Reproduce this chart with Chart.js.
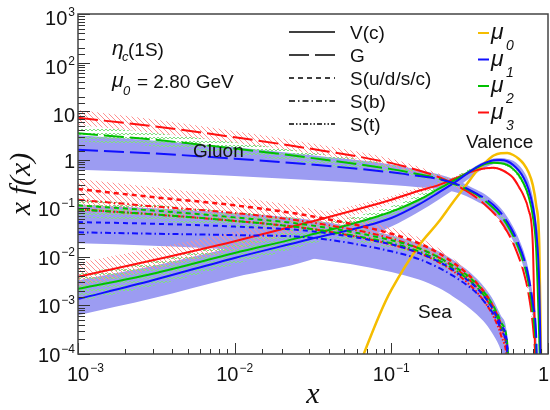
<!DOCTYPE html>
<html>
<head>
<meta charset="utf-8">
<script src="https://cdn.jsdelivr.net/npm/chart.js@4.4.1/dist/chart.umd.min.js"></script>
<style>
  body { margin: 0; background: #fff; }
  #wrap { width: 550px; height: 410px; }
</style>
</head>
<body>
<div id="wrap"><canvas id="pdfChart" width="550" height="410"></canvas></div>
<script>
// shared x grid (momentum fraction)
const xValues = [0.001, 0.003, 0.01, 0.03, 0.1, 0.15, 0.2, 0.25, 0.3, 0.35, 0.4, 0.45, 0.5, 0.55, 0.6, 0.65, 0.7, 0.75, 0.8, 0.84, 0.88, 0.92];

// valence V(c), central lines
const valMu0 = [1e-6, 1e-6, 1e-6, 1e-6, 2.1e-3, 0.017, 0.052, 0.14, 0.30, 0.58, 0.89, 1.22, 1.36, 1.37, 1.25, 1.05, 0.82, 0.56, 0.30, 0.117, 0.017, 1e-6];
const valMu1 = [1.35e-3, 3.3e-3, 9.5e-3, 0.023, 0.063, 0.12, 0.21, 0.33, 0.5, 0.7, 0.87, 0.98, 0.99, 0.93, 0.78, 0.6, 0.42, 0.25, 0.11, 0.035, 2.5e-3, 1e-6];
const valMu2 = [2.2e-3, 4.5e-3, 0.012, 0.028, 0.085, 0.15, 0.25, 0.37, 0.52, 0.68, 0.82, 0.87, 0.85, 0.78, 0.64, 0.48, 0.32, 0.18, 0.07, 0.015, 2e-4, 1e-6];
const valMu3 = [3.9e-3, 8.5e-3, 0.021, 0.052, 0.15, 0.23, 0.30, 0.40, 0.51, 0.61, 0.67, 0.68, 0.63, 0.53, 0.42, 0.28, 0.18, 0.095, 0.018, 1e-5, 1e-6, 1e-6];

// valence uncertainty bands
const valMu1Hi = [3.3e-3, 6.5e-3, 0.016, 0.034, 0.08, 0.15, 0.26, 0.39, 0.56, 0.76, 0.94, 1.06, 1.08, 1.04, 0.95, 0.78, 0.58, 0.37, 0.17, 0.06, 8e-3, 1e-6];
const valMu1Lo = [6.3e-4, 1.4e-3, 3.8e-3, 8.5e-3, 0.042, 0.085, 0.15, 0.24, 0.37, 0.53, 0.7, 0.82, 0.86, 0.82, 0.7, 0.53, 0.37, 0.21, 0.09, 0.026, 1.5e-3, 1e-6];
const valMu2Hi = [4.5e-3, 8.5e-3, 0.02, 0.042, 0.11, 0.19, 0.3, 0.43, 0.6, 0.76, 0.88, 0.93, 0.91, 0.84, 0.7, 0.54, 0.37, 0.21, 0.085, 0.02, 4e-4, 1e-6];
const valMu2Lo = [1.2e-3, 2.5e-3, 7e-3, 0.018, 0.065, 0.12, 0.21, 0.32, 0.46, 0.61, 0.76, 0.81, 0.79, 0.72, 0.58, 0.43, 0.28, 0.15, 0.055, 0.011, 1e-4, 1e-6];
const valMu3Hi = [7.5e-3, 0.015, 0.033, 0.072, 0.18, 0.27, 0.34, 0.44, 0.55, 0.65, 0.71, 0.72, 0.67, 0.57, 0.45, 0.31, 0.2, 0.11, 0.022, 1e-4, 1e-6, 1e-6];
const valMu3Lo = [2.4e-3, 5.5e-3, 0.014, 0.038, 0.125, 0.2, 0.27, 0.36, 0.47, 0.57, 0.63, 0.64, 0.59, 0.49, 0.38, 0.25, 0.16, 0.08, 0.014, 1e-6, 1e-6, 1e-6];

// gluon G
const gluMu1 = [1.6, 1.35, 1.05, 0.8, 0.55, 0.46, 0.40, 0.33, 0.26, 0.2, 0.155, 0.115, 0.08, 0.052, 0.032, 0.018, 0.0095, 4e-3, 1.1e-3, 2.5e-4, 1e-6, 1e-6];
const gluMu2 = [3.5, 2.6, 1.7, 1.1, 0.64, 0.5, 0.41, 0.32, 0.25, 0.19, 0.14, 0.10, 0.07, 0.045, 0.027, 0.015, 0.0075, 3e-3, 7e-4, 1.2e-4, 1e-6, 1e-6];
const gluMu3 = [7.3, 4.9, 2.9, 1.7, 0.85, 0.6, 0.44, 0.32, 0.23, 0.165, 0.115, 0.08, 0.053, 0.033, 0.019, 0.01, 4.8e-3, 1.8e-3, 4e-4, 5e-5, 1e-6, 1e-6];

const gluMu1Hi = [3.2, 2.5, 1.8, 1.25, 0.8, 0.62, 0.5, 0.4, 0.31, 0.24, 0.19, 0.14, 0.1, 0.066, 0.041, 0.024, 0.013, 5.5e-3, 1.6e-3, 4e-4, 1e-6, 1e-6];
const gluMu1Lo = [0.62, 0.55, 0.46, 0.38, 0.3, 0.27, 0.25, 0.22, 0.18, 0.14, 0.11, 0.08, 0.056, 0.036, 0.021, 0.012, 6e-3, 2.4e-3, 6e-4, 1.2e-4, 1e-6, 1e-6];
const gluMu2Hi = [5.0, 3.6, 2.3, 1.45, 0.8, 0.6, 0.48, 0.37, 0.28, 0.21, 0.155, 0.11, 0.078, 0.05, 0.03, 0.017, 8.5e-3, 3.5e-3, 8.5e-4, 1.6e-4, 1e-6, 1e-6];
const gluMu2Lo = [2.4, 1.9, 1.3, 0.85, 0.52, 0.42, 0.35, 0.28, 0.22, 0.17, 0.125, 0.09, 0.062, 0.04, 0.024, 0.013, 6.5e-3, 2.5e-3, 5.5e-4, 9e-5, 1e-6, 1e-6];
const gluMu3Hi = [10.5, 6.8, 3.9, 2.2, 1.05, 0.72, 0.52, 0.37, 0.26, 0.185, 0.13, 0.09, 0.06, 0.037, 0.021, 0.011, 5.4e-3, 2.1e-3, 5e-4, 7e-5, 1e-6, 1e-6];
const gluMu3Lo = [5.2, 3.6, 2.2, 1.35, 0.7, 0.5, 0.38, 0.28, 0.2, 0.145, 0.1, 0.07, 0.046, 0.029, 0.017, 8.8e-3, 4.2e-3, 1.5e-3, 3.2e-4, 3.5e-5, 1e-6, 1e-6];

// sea quarks: S(u/d/s/c), S(b), S(t)
const seaMu1 = [0.052, 0.048, 0.042, 0.034, 0.018, 0.012, 8e-3, 5.3e-3, 3.5e-3, 2.3e-3, 1.4e-3, 8e-4, 4e-4, 1.5e-4, 1e-6, 1e-6, 1e-6, 1e-6, 1e-6, 1e-6, 1e-6, 1e-6];
const seaBMu1 = [0.032, 0.030, 0.028, 0.025, 0.013, 9e-3, 6e-3, 4e-3, 2.7e-3, 1.8e-3, 1.1e-3, 6.5e-4, 3.2e-4, 1.1e-4, 1e-6, 1e-6, 1e-6, 1e-6, 1e-6, 1e-6, 1e-6, 1e-6];
const seaMu2 = [0.115, 0.09, 0.065, 0.045, 0.022, 0.015, 9.8e-3, 6.5e-3, 4.3e-3, 2.8e-3, 1.7e-3, 9.5e-4, 4.6e-4, 1.6e-4, 1e-6, 1e-6, 1e-6, 1e-6, 1e-6, 1e-6, 1e-6, 1e-6];
const seaBMu2 = [0.095, 0.075, 0.055, 0.038, 0.019, 0.013, 8.5e-3, 5.6e-3, 3.7e-3, 2.4e-3, 1.45e-3, 8e-4, 3.8e-4, 1.3e-4, 1e-6, 1e-6, 1e-6, 1e-6, 1e-6, 1e-6, 1e-6, 1e-6];
const seaMu3 = [0.25, 0.17, 0.115, 0.07, 0.03, 0.019, 0.012, 7.5e-3, 4.7e-3, 2.9e-3, 1.7e-3, 9e-4, 4e-4, 1.2e-4, 1e-6, 1e-6, 1e-6, 1e-6, 1e-6, 1e-6, 1e-6, 1e-6];
const seaBMu3 = [0.15, 0.11, 0.08, 0.052, 0.024, 0.015, 9.8e-3, 6.2e-3, 3.9e-3, 2.4e-3, 1.4e-3, 7.5e-4, 3.3e-4, 1e-4, 1e-6, 1e-6, 1e-6, 1e-6, 1e-6, 1e-6, 1e-6, 1e-6];
const seaTMu3 = [0.095, 0.075, 0.055, 0.038, 0.018, 0.012, 7.8e-3, 5e-3, 3.1e-3, 1.9e-3, 1.1e-3, 5.8e-4, 2.5e-4, 7e-5, 1e-6, 1e-6, 1e-6, 1e-6, 1e-6, 1e-6, 1e-6, 1e-6];

const seaMu1Hi = [0.12, 0.1, 0.08, 0.058, 0.028, 0.019, 0.013, 8.5e-3, 5.6e-3, 3.6e-3, 2.2e-3, 1.25e-3, 6.2e-4, 2.4e-4, 1e-6, 1e-6, 1e-6, 1e-6, 1e-6, 1e-6, 1e-6, 1e-6];
const seaMu1Lo = [0.019, 0.017, 0.014, 0.0095, 4.9e-3, 3.4e-3, 2.3e-3, 1.5e-3, 1e-3, 6.6e-4, 4.2e-4, 2.4e-4, 1.2e-4, 4e-5, 1e-6, 1e-6, 1e-6, 1e-6, 1e-6, 1e-6, 1e-6, 1e-6];
const seaMu2Hi = [0.15, 0.12, 0.085, 0.058, 0.027, 0.018, 0.012, 7.8e-3, 5.1e-3, 3.3e-3, 2e-3, 1.1e-3, 5.3e-4, 1.9e-4, 1e-6, 1e-6, 1e-6, 1e-6, 1e-6, 1e-6, 1e-6, 1e-6];
const seaMu2Lo = [0.065, 0.055, 0.042, 0.03, 0.015, 0.011, 7.3e-3, 4.8e-3, 3.2e-3, 2e-3, 1.25e-3, 7e-4, 3.3e-4, 1.1e-4, 1e-6, 1e-6, 1e-6, 1e-6, 1e-6, 1e-6, 1e-6, 1e-6];
const seaMu3Hi = [0.4, 0.27, 0.17, 0.1, 0.04, 0.025, 0.015, 9e-3, 5.6e-3, 3.4e-3, 2e-3, 1.05e-3, 4.7e-4, 1.5e-4, 1e-6, 1e-6, 1e-6, 1e-6, 1e-6, 1e-6, 1e-6, 1e-6];
const seaMu3Lo = [0.085, 0.07, 0.052, 0.035, 0.016, 0.011, 7e-3, 4.5e-3, 2.8e-3, 1.7e-3, 9.5e-4, 5e-4, 2.1e-4, 6e-5, 1e-6, 1e-6, 1e-6, 1e-6, 1e-6, 1e-6, 1e-6, 1e-6];

// axis labels: [base, exponent] for each decade
const yTickLabels = [['10', '−4'], ['10', '−3'], ['10', '−2'], ['10', '−1'], ['1', ''], ['10', ''], ['10', '2'], ['10', '3']];
const xTickLabels = [['10', '−3'], ['10', '−2'], ['10', '−1'], ['1', '']];

// legends
const styleNames = ['V(c)', 'G', 'S(u/d/s/c)', 'S(b)', 'S(t)'];
const muNames = ['0', '1', '2', '3'];

const colors = ['#f5bd00', '#1010ff', '#00c000', '#ff1010'];
const dashes = [[], [20, 6], [5, 4], [6, 3, 1.5, 3], [5, 2, 1.5, 2, 1.5, 2]];
const SANS = '"Liberation Sans", Arial, sans-serif';

// hatch patterns for the mu2 / mu3 bands
function makeHatch(color) {
    const c = document.createElement('canvas');
    c.width = 5; c.height = 5;
    const g = c.getContext('2d');
    g.strokeStyle = color; g.lineWidth = 1;
    g.beginPath();
    g.moveTo(0, 0); g.lineTo(5, 5);
    g.moveTo(-1, 4); g.lineTo(1, 6);
    g.moveTo(4, -1); g.lineTo(6, 1);
    g.stroke();
    return g.createPattern(c, 'repeat');
}
function makeZigzag(color) {
    const c = document.createElement('canvas');
    c.width = 4; c.height = 4;
    const g = c.getContext('2d');
    g.strokeStyle = color; g.lineWidth = 1;
    g.beginPath();
    g.moveTo(0, 3); g.lineTo(2, 1); g.lineTo(4, 3);
    g.stroke();
    return g.createPattern(c, 'repeat');
}
const bandFills = ['#9c9cf2', makeZigzag('#80e080'), makeHatch('#ff9090')];

function pts(ys) {
    return xValues.map((x, i) => ({ x: x, y: ys[i] }));
}

const datasets = [];
function addBand(lo, hi, fill, order) {
    datasets.push({ data: pts(lo), borderColor: 'rgba(0,0,0,0)', borderWidth: 0, pointRadius: 0, fill: false, order: order });
    datasets.push({ data: pts(hi), borderColor: 'rgba(0,0,0,0)', borderWidth: 0, pointRadius: 0, fill: '-1', backgroundColor: fill, order: order });
}
function addCurve(ys, color, dash, width) {
    datasets.push({ data: pts(ys), borderColor: color, borderDash: dash, borderWidth: width || 2, pointRadius: 0, fill: false, order: 0 });
}

// bands: blue filled (mu1), green zigzag (mu2), red hatch (mu3)
addBand(gluMu1Lo, gluMu1Hi, bandFills[0], 30);
addBand(seaMu1Lo, seaMu1Hi, bandFills[0], 30);
addBand(valMu1Lo, valMu1Hi, bandFills[0], 30);
addBand(gluMu2Lo, gluMu2Hi, bandFills[1], 20);
addBand(seaMu2Lo, seaMu2Hi, bandFills[1], 20);
addBand(valMu2Lo, valMu2Hi, bandFills[1], 20);
addBand(gluMu3Lo, gluMu3Hi, bandFills[2], 10);
addBand(seaMu3Lo, seaMu3Hi, bandFills[2], 10);
addBand(valMu3Lo, valMu3Hi, bandFills[2], 10);

// curves
addCurve(seaBMu1, colors[1], dashes[3]);
addCurve(seaMu1, colors[1], dashes[2]);
addCurve(seaBMu2, colors[2], dashes[3]);
addCurve(seaMu2, colors[2], dashes[2]);
addCurve(seaTMu3, colors[3], dashes[4]);
addCurve(seaBMu3, colors[3], dashes[3]);
addCurve(seaMu3, colors[3], dashes[2], 2.5);
addCurve(gluMu1, colors[1], dashes[1]);
addCurve(gluMu2, colors[2], dashes[1]);
addCurve(gluMu3, colors[3], dashes[1]);
addCurve(valMu1, colors[1], dashes[0]);
addCurve(valMu2, colors[2], dashes[0]);
addCurve(valMu3, colors[3], dashes[0]);
addCurve(valMu0, colors[0], dashes[0], 2.5);

function isDecade(v) {
    const l = Math.log10(v);
    return Math.abs(l - Math.round(l)) < 1e-6;
}

// "10" with a raised exponent; returns its width
function powWidth(ctx, lab) {
    ctx.font = '20px ' + SANS;
    let w = ctx.measureText(lab[0]).width;
    if (lab[1]) {
        ctx.font = '12px ' + SANS;
        w += ctx.measureText(lab[1]).width + 1;
    }
    return w;
}
function drawPow(ctx, lab, left, cy) {
    ctx.font = '20px ' + SANS;
    ctx.fillText(lab[0], left, cy + 7);
    if (lab[1]) {
        const wb = ctx.measureText(lab[0]).width;
        ctx.font = '12px ' + SANS;
        ctx.fillText(lab[1], left + wb + 1, cy - 2);
    }
}

// frame, inward ticks, tick labels and all in-plot text
const decorations = {
    id: 'decorations',
    afterDraw(chart) {
        const ctx = chart.ctx;
        const a = chart.chartArea;
        ctx.save();

        // ticks pointing into the frame
        ctx.strokeStyle = '#333';
        ctx.lineWidth = 1;
        const ys = chart.scales.y;
        ys.ticks.forEach(t => {
            const py = Math.round(ys.getPixelForValue(t.value)) + 0.5;
            const len = isDecade(t.value) ? 12 : 7;
            ctx.beginPath(); ctx.moveTo(a.left, py); ctx.lineTo(a.left + len, py); ctx.stroke();
        });
        const xs = chart.scales.x;
        xs.ticks.forEach(t => {
            const px = Math.round(xs.getPixelForValue(t.value)) + 0.5;
            const len = isDecade(t.value) ? 11 : 5;
            ctx.beginPath(); ctx.moveTo(px, a.bottom); ctx.lineTo(px, a.bottom - len); ctx.stroke();
        });

        // frame
        ctx.strokeStyle = '#444';
        ctx.lineWidth = 1.5;
        ctx.strokeRect(a.left, a.top, a.right - a.left, a.bottom - a.top);

        ctx.fillStyle = '#111';
        ctx.textAlign = 'left';
        ctx.textBaseline = 'alphabetic';

        // tick labels at the decades
        ys.ticks.filter(t => isDecade(t.value)).forEach(t => {
            const lab = yTickLabels[Math.round(Math.log10(t.value)) + 4];
            const py = ys.getPixelForValue(t.value);
            const w = powWidth(ctx, lab);
            drawPow(ctx, lab, a.left - 3 - w, py + (t.value > 1 ? 4 : 1));
        });
        xs.ticks.filter(t => isDecade(t.value)).forEach(t => {
            const lab = xTickLabels[Math.round(Math.log10(t.value)) + 3];
            const px = xs.getPixelForValue(t.value);
            const w = powWidth(ctx, lab);
            let left = Math.max(px - w / 2, a.left - 11);
            left = Math.min(left, chart.width - 1 - w);
            drawPow(ctx, lab, left, a.bottom + 20);
        });

        // eta_c(1S) and mu_0 = 2.80 GeV
        ctx.font = 'italic 21px ' + SANS;
        ctx.fillText('η', 112, 55);
        ctx.font = 'italic 13px ' + SANS;
        ctx.fillText('c', 122, 61);
        ctx.font = '19px ' + SANS;
        ctx.fillText('(1S)', 128, 56);
        ctx.font = 'italic 21px ' + SANS;
        ctx.fillText('μ', 112, 87);
        ctx.font = 'italic 13px ' + SANS;
        ctx.fillText('0', 123, 95);
        ctx.font = '19px ' + SANS;
        ctx.fillText('= 2.80 GeV', 137, 88);

        // region labels
        ctx.fillText('Gluon', 193, 157);
        ctx.fillText('Valence', 466, 148);
        ctx.fillText('Sea', 418, 318);

        // line style legend
        styleNames.forEach((name, i) => {
            const yy = 32 + i * 23;
            ctx.strokeStyle = '#000';
            ctx.lineWidth = 1.5;
            ctx.setLineDash(dashes[i]);
            ctx.beginPath(); ctx.moveTo(289, yy); ctx.lineTo(335, yy); ctx.stroke();
            ctx.setLineDash([]);
            ctx.font = '19px ' + SANS;
            ctx.fillText(name, 350, yy + 7);
        });

        // scale legend
        muNames.forEach((n, i) => {
            const yy = 33 + i * 26.5;
            ctx.strokeStyle = colors[i];
            ctx.lineWidth = 2;
            ctx.beginPath(); ctx.moveTo(478, yy); ctx.lineTo(489, yy); ctx.stroke();
            ctx.font = 'italic 23px ' + SANS;
            ctx.fillText('μ', 491, yy + 6);
            ctx.font = 'italic 14px ' + SANS;
            ctx.fillText(n, 506, yy + 17);
        });

        ctx.restore();
    }
};

const ctx = document.getElementById('pdfChart').getContext('2d');
new Chart(ctx, {
    type: 'line',
    data: { datasets: datasets },
    options: {
        responsive: false,
        animation: false,
        layout: { padding: { top: 14, right: 2, left: 0, bottom: 0 } },
        elements: { line: { cubicInterpolationMode: 'monotone' } },
        plugins: {
            legend: { display: false },
            tooltip: { enabled: false },
            filler: { propagate: false }
        },
        scales: {
            x: {
                type: 'logarithmic',
                min: 0.001,
                max: 1,
                grid: { display: false },
                border: { display: false },
                ticks: { display: false, autoSkip: false },
                title: {
                    display: true,
                    text: 'x',
                    color: '#111',
                    font: { family: '"Liberation Serif", serif', style: 'italic', size: 30, lineHeight: 1 },
                    padding: 0
                },
                afterFit: s => { s.height = 56; s.paddingLeft = 0; s.paddingRight = 0; }
            },
            y: {
                type: 'logarithmic',
                min: 1e-4,
                max: 1e3,
                grid: { display: false },
                border: { display: false },
                ticks: { display: false, autoSkip: false },
                title: {
                    display: true,
                    text: 'x f(x)',
                    color: '#111',
                    font: { family: '"Liberation Serif", serif', style: 'italic', size: 30, lineHeight: 1 },
                    padding: { top: 7, bottom: 0 }
                },
                afterFit: s => { s.width = 78; s.paddingTop = 0; s.paddingBottom = 0; }
            }
        }
    },
    plugins: [decorations]
});
</script>
</body>
</html>
